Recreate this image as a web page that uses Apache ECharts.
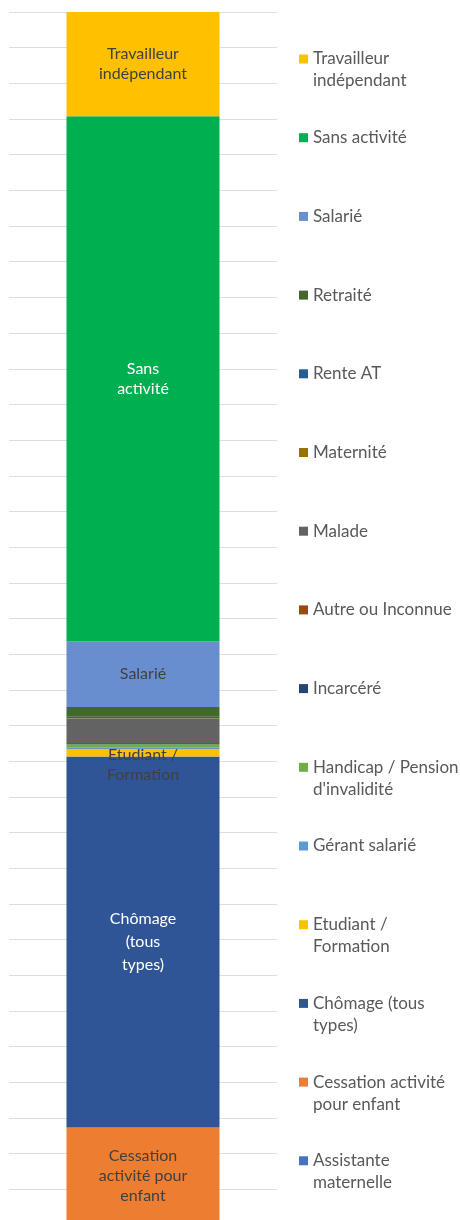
<!DOCTYPE html>
<html>
<head>
<meta charset="utf-8">
<script src="https://cdn.jsdelivr.net/npm/echarts@6/dist/echarts.min.js"></script>
<style>
  html, body { margin: 0; padding: 0; background: #fff; }
  #chart { width: 460px; height: 1220px; }
</style>
</head>
<body>
<div id="chart"></div>
<script>
// categories, bottom of the stack first
var categories = ['Assistante maternelle', 'Cessation activité pour enfant', 'Chômage (tous types)',
  'Etudiant / Formation', 'Gérant salarié', "Handicap / Pension d'invalidité", 'Incarcéré',
  'Autre ou Inconnue', 'Malade', 'Maternité', 'Rente AT', 'Retraité', 'Salarié',
  'Sans activité', 'Travailleur indépendant']
// share in %, same order
var values = [0.03, 8.0, 30.6, 0.6, 0.15, 0.25, 0.03, 0.08, 2.0, 0.04, 0.12, 0.8, 5.4, 43.3, 8.6]
var colors = ['#4472C4', '#ED7D31', '#2F5597', '#FFC000', '#5B9BD5', '#70AD47', '#264478',
  '#9E480E', '#636363', '#997300', '#255E91', '#43682B', '#698ED0', '#00B050', '#FFC000']
// text drawn inside the bar ('' = no label)
var barLabels = ['', 'Cessation\nactivité pour\nenfant', 'Chômage\n(tous\ntypes)', 'Etudiant /\nFormation',
  '', '', '', '', '', '', '', '', 'Salarié', 'Sans\nactivité', 'Travailleur\nindépendant']
var whiteLabels = ['Chômage (tous types)', 'Sans activité']
// legend text, as wrapped in the picture
var legendLines = {
  'Travailleur indépendant': ['Travailleur', 'indépendant'],
  "Handicap / Pension d'invalidité": ['Handicap / Pension', "d'invalidité"],
  'Etudiant / Formation': ['Etudiant /', 'Formation'],
  'Chômage (tous types)': ['Chômage (tous', 'types)'],
  'Cessation activité pour enfant': ['Cessation activité', 'pour enfant'],
  'Assistante maternelle': ['Assistante', 'maternelle']
}

var chart = echarts.init(document.getElementById('chart'))

var series = categories.map(function (name, i) {
  return {
    name: name,
    type: 'bar',
    stack: 'total',
    barWidth: 153,
    itemStyle: { color: colors[i] },
    label: {
      show: barLabels[i] !== '',
      position: 'inside',
      offset: name === 'Etudiant / Formation' ? [0, 12] : [0, 0],
      formatter: barLabels[i],
      color: whiteLabels.indexOf(name) >= 0 ? '#ffffff' : '#404040',
      fontFamily: 'Lato',
      fontSize: 16,
      lineHeight: name === 'Chômage (tous types)' ? 23 : 20
    },
    emphasis: { disabled: true },
    data: [values[i]]
  }
})

chart.setOption({
  animation: false,
  // the bar runs a few pixels past the bottom edge of the picture
  grid: { left: 9, right: 183, top: 12, height: 1213, outerBoundsMode: 'none' },
  xAxis: {
    type: 'category',
    data: [''],
    show: false
  },
  yAxis: {
    type: 'value',
    min: 0,
    max: 100,
    interval: 100 / 34,
    axisLabel: { show: false },
    axisLine: { show: false },
    axisTick: { show: false },
    splitLine: { lineStyle: { color: '#dedede', width: 1 } }
  },
  legend: {
    orient: 'vertical',
    left: 294,
    top: 21,
    itemWidth: 9,
    itemHeight: 9,
    itemGap: 12.7,
    icon: 'rect',
    data: categories.slice().reverse(),
    formatter: function (name) {
      var lines = legendLines[name] || [name, ' ']
      return ' \n' + lines.join('\n')
    },
    textStyle: {
      color: '#595959',
      fontFamily: 'Lato',
      fontSize: 17,
      lineHeight: 22
    }
  },
  series: series
})
</script>
</body>
</html>
